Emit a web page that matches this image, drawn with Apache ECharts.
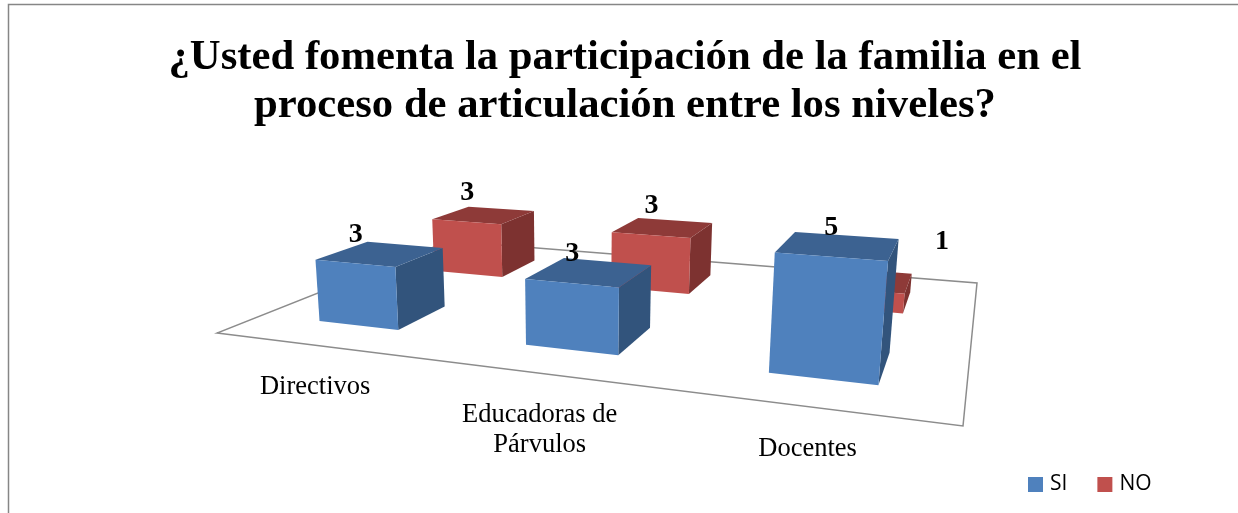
<!DOCTYPE html>
<html>
<head>
<meta charset="utf-8">
<style>
  html, body { margin: 0; padding: 0; background: #fff; overflow: hidden; }
  #chart { width: 1238px; height: 513px; }
</style>
<script src="https://cdn.jsdelivr.net/npm/echarts@6/dist/echarts.min.js"></script>
</head>
<body>
<div id="chart"></div>
<script>
const categories = ['Directivos', 'Educadoras de\nPárvulos', 'Docentes'];
const siValues = [3, 3, 5];
const noValues = [3, 3, 1];
const titleLines = ['¿Usted fomenta la participación de la familia en el', 'proceso de articulación entre los niveles?'];

// hidden axes live in this rect, then get projected on the tilted floor
const GRID = { left: 100, top: 100, width: 600, height: 300 };
const MAX_VALUE = 5;

// floor corners on screen, front-left, front-right, back-right, back-left
const FLOOR = [[217, 333], [963, 426], [977, 283], [449, 241]];
// where the vertical edges converge, and how much one value unit pushes to it
const VANISH = [578, 4260];
const UNIT_T = -0.0053;
const BAR_RATIO = 0.4;
const DEPTH = 0.2;
const SERIF = '"Liberation Serif", "Times New Roman", serif';

// square to quad homography
const H = (function () {
  const [p0, p1, p2, p3] = FLOOR;
  const dx1 = p1[0] - p2[0], dx2 = p3[0] - p2[0], sx = p0[0] - p1[0] + p2[0] - p3[0];
  const dy1 = p1[1] - p2[1], dy2 = p3[1] - p2[1], sy = p0[1] - p1[1] + p2[1] - p3[1];
  const den = dx1 * dy2 - dx2 * dy1;
  const g = (sx * dy2 - dx2 * sy) / den;
  const h = (dx1 * sy - sx * dy1) / den;
  return {
    a: p1[0] - p0[0] + g * p1[0], b: p3[0] - p0[0] + h * p3[0], c: p0[0],
    d: p1[1] - p0[1] + g * p1[1], e: p3[1] - p0[1] + h * p3[1], f: p0[1],
    g: g, h: h
  };
})();

// u along categories, v into the depth, val up
function project(u, v, val) {
  const t = val * UNIT_T;
  const w = H.g * u + H.h * v + 1 + t;
  return [
    (H.a * u + H.b * v + H.c + t * VANISH[0]) / w,
    (H.d * u + H.e * v + H.f + t * VANISH[1]) / w
  ];
}

function poly(points, fill) {
  return { type: 'polygon', shape: { points: points }, style: { fill: fill } };
}

function barRenderer(depthCenter, colors, labelShift) {
  return function (params, api) {
    const idx = api.value(0);
    const val = api.value(1);
    const pt = api.coord([idx, val]);
    const base = api.coord([idx, 0]);
    const halfW = api.size([1, 0])[0] * BAR_RATIO / 2 / GRID.width;
    const uc = (pt[0] - GRID.left) / GRID.width;
    const h = (base[1] - pt[1]) / GRID.height * MAX_VALUE;
    const u0 = uc - halfW, u1 = uc + halfW;
    const v0 = depthCenter - DEPTH / 2, v1 = depthCenter + DEPTH / 2;

    const labelAt = project(uc, v0, h);
    const shift = labelShift[idx] || [0, 0];
    return {
      type: 'group',
      children: [
        poly([project(u1, v0, 0), project(u1, v1, 0), project(u1, v1, h), project(u1, v0, h)], colors.side),
        poly([project(u0, v0, h), project(u1, v0, h), project(u1, v1, h), project(u0, v1, h)], colors.top),
        poly([project(u0, v0, 0), project(u1, v0, 0), project(u1, v0, h), project(u0, v0, h)], colors.front),
        {
          type: 'text',
          style: {
            x: labelAt[0] + 1 + shift[0],
            y: labelAt[1] - 29 + shift[1],
            text: String(val),
            fill: '#000',
            font: 'bold 28px ' + SERIF,
            align: 'center',
            verticalAlign: 'middle'
          }
        }
      ]
    };
  };
}

const chart = echarts.init(document.getElementById('chart'));
chart.setOption({
  animation: false,
  backgroundColor: '#fff',
  title: {
    text: titleLines.join('\n'),
    left: 620,
    top: 29,
    textAlign: 'center',
    textStyle: { fontFamily: SERIF, fontWeight: 'bold', fontSize: 42.7, lineHeight: 48, color: '#000' }
  },
  legend: {
    data: ['SI', 'NO'],
    left: 1028,
    top: 474,
    padding: 0,
    icon: 'rect',
    itemWidth: 15,
    itemHeight: 15,
    itemGap: 30,
    textStyle: { fontFamily: '"Open Sans", sans-serif', fontSize: 21, color: '#000', padding: [0, 0, 0, 2] },
    selectedMode: false
  },
  grid: GRID,
  xAxis: { type: 'category', data: categories, show: false },
  yAxis: { type: 'value', min: 0, max: MAX_VALUE, show: false },
  graphic: [{
    type: 'rect',
    shape: { x: 8.5, y: 4.5, width: 1300, height: 600 },
    style: { fill: 'none', stroke: '#868686', lineWidth: 1.5 },
    z: 0
  }],
  series: [
    {
      name: 'piso',
      type: 'custom',
      z: 1,
      silent: true,
      data: categories.map((c, i) => [i]),
      renderItem: function (params, api) {
        const idx = api.value(0);
        const uc = (api.coord([idx, 0])[0] - GRID.left) / GRID.width;
        const at = project(uc, 0, 0);
        const children = [{
          type: 'text',
          style: {
            x: at[0] - 1,
            y: at[1] + 27,
            text: categories[idx],
            fill: '#000',
            font: '26.5px ' + SERIF,
            lineHeight: 30,
            align: 'center',
            verticalAlign: 'top'
          }
        }];
        if (idx === 0) {
          children.unshift({
            type: 'polygon',
            shape: { points: [project(0, 0, 0), project(1, 0, 0), project(1, 1, 0), project(0, 1, 0)] },
            style: { fill: 'none', stroke: '#8c8c8c', lineWidth: 1.5 }
          });
        }
        return { type: 'group', children: children };
      }
    },
    {
      name: 'NO',
      type: 'custom',
      z: 2,
      itemStyle: { color: '#C0504D' },
      data: noValues.map((v, i) => [i, v]),
      // the 1 of Docentes was dragged out from behind the big bar
      renderItem: barRenderer(0.75, { front: '#C0504D', top: '#8E3A38', side: '#7D3230' }, { 2: [82, -19] })
    },
    {
      name: 'SI',
      type: 'custom',
      z: 3,
      itemStyle: { color: '#4F81BD' },
      data: siValues.map((v, i) => [i, v]),
      renderItem: barRenderer(0.25, { front: '#4F81BD', top: '#3C6291', side: '#32547C' }, {})
    }
  ]
});
</script>
</body>
</html>
